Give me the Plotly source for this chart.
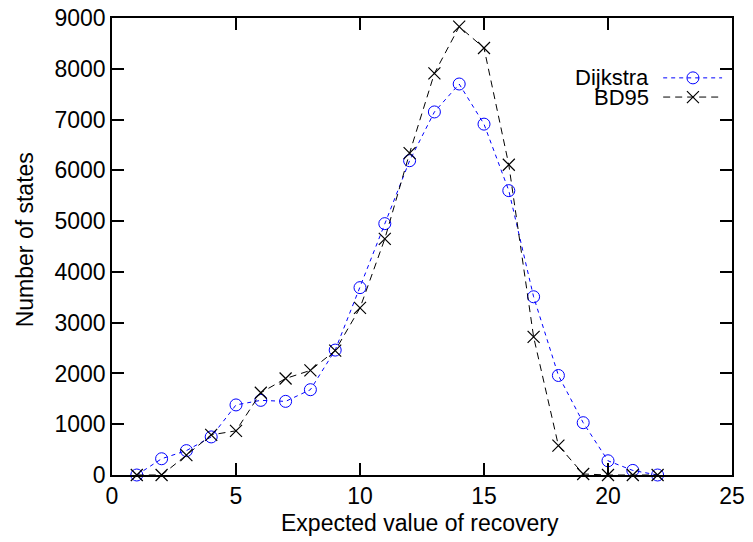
import plotly.graph_objects as go

x_vals = list(range(1, 23))
dijkstra = [0, 320, 480, 750, 1380, 1470, 1450, 1680, 2460, 3690, 4950, 6190,
            7150, 7700, 6910, 5600, 3510, 1960, 1030, 280, 90, 0]
bd95 = [0, 0, 390, 790, 870, 1620, 1900, 2060, 2450, 3290, 4650, 6340,
        7910, 8830, 8410, 6110, 2720, 580, 20, 0, 0, 0]
series_names = ["Dijkstra", "BD95"]
x_ticks = [0, 5, 10, 15, 20, 25]
y_ticks = [0, 1000, 2000, 3000, 4000, 5000, 6000, 7000, 8000, 9000]
x_title = "Expected value of recovery"
y_title = "Number of states"

FONT = "Liberation Sans, Arial, Helvetica, sans-serif"
FS = 23
LFS = 22
BLUE = "#0000ff"
BLACK = "#000000"

fig = go.Figure()
fig.add_trace(go.Scatter(
    x=x_vals, y=dijkstra, mode="lines+markers", name=series_names[0],
    line=dict(color=BLUE, width=1, dash="4px,4px"),
    marker=dict(symbol="circle-open", size=12, color=BLUE, line=dict(width=1, color=BLUE)),
    showlegend=False, cliponaxis=False))
fig.add_trace(go.Scatter(
    x=x_vals, y=bd95, mode="lines+markers", name=series_names[1],
    line=dict(color=BLACK, width=1, dash="7px,5px"),
    marker=dict(symbol="x-thin-open", size=12, color=BLACK, line=dict(width=1.2, color=BLACK)),
    showlegend=False, cliponaxis=False))

# manual legend (gnuplot style: text right-aligned, sample to the right)
leg_x0, leg_x1, leg_xm, leg_text_x = 0.889, 0.984, 0.937, 0.869
rows = [0.869, 0.827]
styles = [(BLUE, "4px,4px", "circle-open", 1), (BLACK, "7px,5px", "x-thin-open", 1.2)]
for i, name in enumerate(series_names):
    col, dash, sym, mw = styles[i]
    fig.add_trace(go.Scatter(
        x=[leg_x0, leg_x1], y=[rows[i], rows[i]], mode="lines",
        line=dict(color=col, width=1, dash=dash), xaxis="x2", yaxis="y2",
        showlegend=False, hoverinfo="skip"))
    fig.add_trace(go.Scatter(
        x=[leg_xm], y=[rows[i]], mode="markers",
        marker=dict(symbol=sym, size=12, color=col, line=dict(width=mw, color=col)),
        xaxis="x2", yaxis="y2", showlegend=False, hoverinfo="skip"))
    fig.add_annotation(x=leg_text_x, y=rows[i], xref="paper", yref="paper",
                       text=name, showarrow=False, xanchor="right", yanchor="middle",
                       font=dict(family=FONT, size=LFS, color="black"))

# axis titles
fig.add_annotation(x=0.497, y=-0.105, xref="paper", yref="paper", text=x_title,
                   showarrow=False, xanchor="center", yanchor="middle",
                   font=dict(family=FONT, size=FS, color="black"))
fig.add_annotation(x=-0.140, y=0.514, xref="paper", yref="paper", text=y_title,
                   showarrow=False, xanchor="center", yanchor="middle", textangle=-90,
                   font=dict(family=FONT, size=FS, color="black"))

axis_common = dict(showline=True, linecolor="black", linewidth=1.5, mirror="ticks",
                   ticks="inside", ticklen=12, tickwidth=1.5, tickcolor="black",
                   showgrid=False, zeroline=False, automargin=False,
                   ticklabeloverflow="allow",
                   tickfont=dict(family=FONT, size=FS, color="black"))

# page body has an 8px default margin; size the figure to compensate
fig.update_layout(
    width=745, height=534,
    margin=dict(l=104, r=21, t=10, b=67),
    paper_bgcolor="white", plot_bgcolor="white",
    font=dict(family=FONT, size=FS, color="black"),
    xaxis=dict(range=[0, 25], tickvals=x_ticks, **axis_common),
    yaxis=dict(range=[0, 9000], tickvals=y_ticks, **axis_common),
    xaxis2=dict(overlaying="x", range=[0, 1], visible=False),
    yaxis2=dict(overlaying="y", range=[0, 1], visible=False),
    showlegend=False,
)

fig.write_html("out.html")
